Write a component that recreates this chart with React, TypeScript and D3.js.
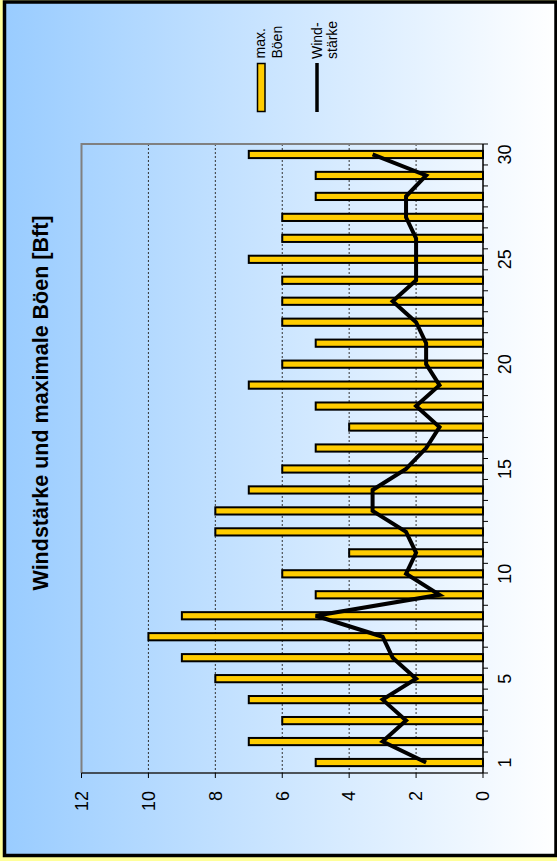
import { useEffect, useRef } from 'react';
import * as d3 from 'd3';

// Tage des Monats
const days = d3.range(1, 31);
const dayLabels = [1, 5, 10, 15, 20, 25, 30];
// max. Böen [Bft]
const gusts = [5, 7, 6, 7, 8, 9, 10, 9, 5, 6, 4, 8, 8, 7, 6, 5, 4, 5, 7, 6, 5, 6, 6, 6, 7, 6, 6, 5, 5, 7];
// mittlere Windstärke [Bft]
const wind = [1.7, 3.0, 2.3, 3.0, 2.0, 2.7, 3.0, 5.0, 1.3, 2.3, 2.0, 2.3, 3.3, 3.3, 2.3, 1.7, 1.3, 2.0, 1.3, 1.7, 1.7, 2.0, 2.7, 2.0, 2.0, 2.0, 2.3, 2.3, 1.7, 3.3];
const valueTicks = [0, 2, 4, 6, 8, 10, 12];

const FONT = '"Liberation Sans", Arial, sans-serif';

const App = () => {
  const svgRef = useRef<SVGSVGElement>(null);

  useEffect(() => {
    const width = 557;
    const height = 861;
    // plot area (chart is drawn turned by 90 degrees)
    const plot = { left: 81.5, right: 483, top: 144, bottom: 773 };

    const svg = d3.select(svgRef.current);
    svg.selectAll('*').remove();
    svg.attr('width', width).attr('height', height);

    // background
    const defs = svg.append('defs');
    const grad = defs.append('linearGradient')
      .attr('id', 'bg')
      .attr('x1', '0%').attr('x2', '100%')
      .attr('y1', '0%').attr('y2', '0%');
    grad.append('stop').attr('offset', '0%').attr('stop-color', '#99CCFF');
    grad.append('stop').attr('offset', '100%').attr('stop-color', '#FFFFFF');

    svg.append('rect')
      .attr('width', width).attr('height', height)
      .attr('fill', '#FFFF99');
    svg.append('rect')
      .attr('x', 4.5).attr('y', 2)
      .attr('width', 551.5).attr('height', 853.5)
      .attr('fill', 'url(#bg)')
      .attr('stroke', '#000')
      .attr('stroke-width', 3.5);

    // scales
    const xScale = d3.scaleLinear().domain([0, 12]).range([plot.right, plot.left]);
    const yScale = d3.scaleBand<number>().domain(days).range([plot.bottom, plot.top]).padding(0);
    const bw = yScale.bandwidth();
    const yMid = (d: number) => (yScale(d) as number) + bw / 2;

    // gridlines
    svg.append('g')
      .selectAll('line')
      .data(valueTicks.filter(v => v > 0 && v < 12))
      .join('line')
      .attr('x1', d => xScale(d)).attr('x2', d => xScale(d))
      .attr('y1', plot.top).attr('y2', plot.bottom)
      .attr('stroke', '#333')
      .attr('stroke-width', 1)
      .attr('stroke-dasharray', '2,2');

    // plot area border
    svg.append('path')
      .attr('d', `M${plot.left},${plot.bottom}V${plot.top}H${plot.right}`)
      .attr('fill', 'none')
      .attr('stroke', '#808080')
      .attr('stroke-width', 2);

    // bars (max. Böen)
    svg.append('g')
      .selectAll('rect')
      .data(days)
      .join('rect')
      .attr('x', (d, i) => xScale(gusts[i]))
      .attr('y', d => yMid(d) - 3.6)
      .attr('width', (d, i) => xScale(0) - xScale(gusts[i]))
      .attr('height', 7.2)
      .attr('fill', '#FFCC00')
      .attr('stroke', '#000')
      .attr('stroke-width', 2);

    // line (Windstärke)
    const line = d3.line<number>()
      .x((d, i) => xScale(wind[i]))
      .y(d => yMid(d));
    svg.append('path')
      .datum(days)
      .attr('fill', 'none')
      .attr('stroke', '#000')
      .attr('stroke-width', 4)
      .attr('stroke-linejoin', 'miter')
      .attr('d', line);

    // value axis (bottom)
    svg.append('line')
      .attr('x1', plot.left).attr('x2', plot.right)
      .attr('y1', plot.bottom).attr('y2', plot.bottom)
      .attr('stroke', '#222').attr('stroke-width', 1.5);
    svg.append('g')
      .selectAll('line')
      .data(valueTicks)
      .join('line')
      .attr('x1', d => xScale(d)).attr('x2', d => xScale(d))
      .attr('y1', plot.bottom).attr('y2', plot.bottom + 5)
      .attr('stroke', '#000');
    svg.append('g')
      .selectAll('text')
      .data(valueTicks)
      .join('text')
      .attr('transform', d => `translate(${xScale(d)},${plot.bottom + 18}) rotate(-90)`)
      .attr('text-anchor', 'end')
      .attr('dy', '0.35em')
      .attr('font-family', FONT)
      .attr('font-size', 18)
      .text(d => d);

    // category axis (right)
    svg.append('line')
      .attr('x1', plot.right).attr('x2', plot.right)
      .attr('y1', plot.top).attr('y2', plot.bottom)
      .attr('stroke', '#000').attr('stroke-width', 1.5);
    svg.append('g')
      .selectAll('line')
      .data([...days, 31])
      .join('line')
      .attr('x1', plot.right).attr('x2', plot.right + 5)
      .attr('y1', d => d <= 30 ? (yScale(d) as number) + bw : plot.top)
      .attr('y2', d => d <= 30 ? (yScale(d) as number) + bw : plot.top)
      .attr('stroke', '#000');
    svg.append('g')
      .selectAll('text')
      .data(dayLabels)
      .join('text')
      .attr('transform', d => `translate(${plot.right + 22},${yMid(d)}) rotate(-90)`)
      .attr('text-anchor', 'middle')
      .attr('dy', '0.35em')
      .attr('font-family', FONT)
      .attr('font-size', 18)
      .text(d => d);

    // title
    svg.append('text')
      .attr('transform', 'translate(47.5,403) rotate(-90)')
      .attr('text-anchor', 'middle')
      .attr('font-family', FONT)
      .attr('font-weight', 'bold')
      .attr('font-size', 21.5)
      .text('Windstärke und maximale Böen [Bft]');

    // legend
    const legend = svg.append('g').attr('font-family', FONT).attr('font-size', 14);
    legend.append('rect')
      .attr('x', 257.5).attr('y', 63.5)
      .attr('width', 7.5).attr('height', 48)
      .attr('fill', '#FFCC00')
      .attr('stroke', '#000')
      .attr('stroke-width', 1.5);
    [['max.', 265], ['Böen', 281.5]].forEach(([t, x]) => {
      legend.append('text')
        .attr('transform', `translate(${x},58.5) rotate(-90)`)
        .text(t as string);
    });
    legend.append('line')
      .attr('x1', 317).attr('x2', 317)
      .attr('y1', 63).attr('y2', 112)
      .attr('stroke', '#000')
      .attr('stroke-width', 3.5);
    [['Wind-', 321.5], ['stärke', 336.5]].forEach(([t, x]) => {
      legend.append('text')
        .attr('transform', `translate(${x},59) rotate(-90)`)
        .text(t as string);
    });
  }, []);

  return (
    <svg ref={svgRef} style={{ position: 'absolute', left: 0, top: 0 }}></svg>
  );
};

export default App;
